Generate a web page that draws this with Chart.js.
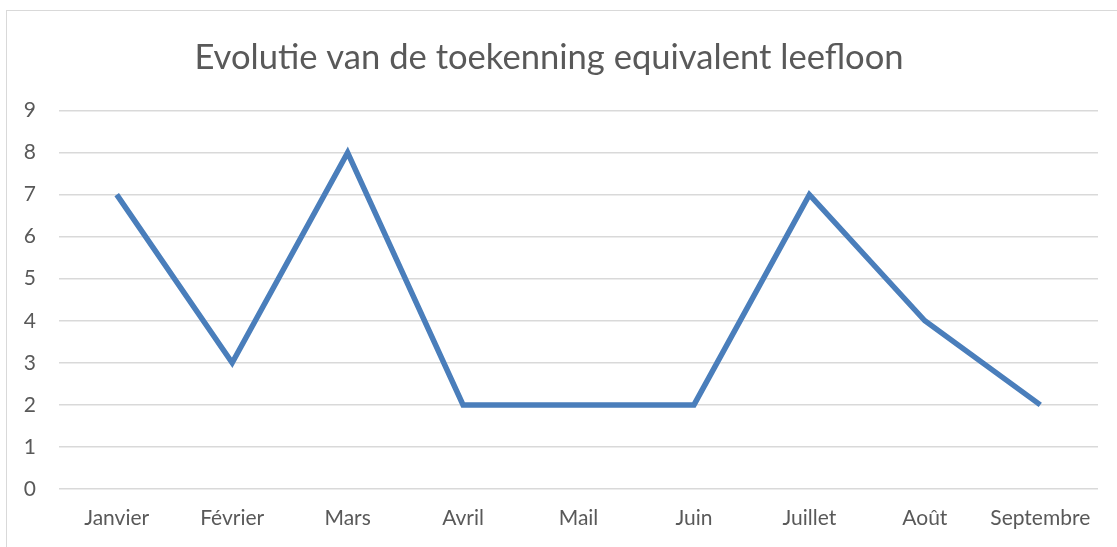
<!DOCTYPE html>
<html>
<head>
<meta charset="utf-8">
<script src="https://cdn.jsdelivr.net/npm/chart.js@4"></script>
<style>
  html, body { margin: 0; padding: 0; background: #fff; overflow: hidden; }
  #wrap { position: relative; width: 1117px; height: 547px; }
  #frame { position: absolute; left: 6px; top: 10px; width: 1200px; height: 600px; border: 1px solid #d9d9d9; }
  canvas { position: absolute; left: 0; top: 0; }
</style>
</head>
<body>
<div id="wrap">
  <div id="frame"></div>
  <canvas id="myChart" width="1117" height="547"></canvas>
</div>
<script>
// chart data
const months = ["Janvier", "Février", "Mars", "Avril", "Mail", "Juin", "Juillet", "Août", "Septembre"];
const counts = [7, 3, 8, 2, 2, 2, 7, 4, 2];
const chartTitle = "Evolutie van de toekenning equivalent leefloon";

const fontFamily = "Lato, 'Open Sans', sans-serif";
const textColor = "#595959";
const gridColor = "#d9d9d9";

const ctx = document.getElementById("myChart").getContext("2d");
new Chart(ctx, {
  type: "line",
  data: {
    labels: months,
    datasets: [{
      data: counts,
      borderColor: "#4a7ebb",
      borderWidth: 5.5,
      borderJoinStyle: "miter",
      pointRadius: 0,
      tension: 0,
      fill: false
    }]
  },
  options: {
    responsive: false,
    animation: false,
    layout: { padding: { left: 0, right: 19, top: 0, bottom: 0 } },
    plugins: {
      legend: { display: false },
      tooltip: { enabled: false },
      title: {
        display: true,
        text: chartTitle,
        color: textColor,
        font: { family: fontFamily, size: 34.6, weight: "normal" },
        padding: { top: 37, bottom: 32 }
      }
    },
    scales: {
      x: {
        offset: true,
        grid: { display: false, drawTicks: false },
        border: { display: false },
        ticks: { color: textColor, font: { family: fontFamily, size: 21 }, padding: 17, maxRotation: 0 },
        afterFit: (s) => { s.height = 58; }
      },
      y: {
        min: 0,
        max: 9,
        grid: { color: gridColor, lineWidth: 1.5, drawTicks: false },
        border: { display: false },
        ticks: { stepSize: 1, color: textColor, font: { family: fontFamily, size: 21 }, padding: 23 },
        afterFit: (s) => { s.width = 59; }
      }
    }
  }
});
</script>
</body>
</html>
